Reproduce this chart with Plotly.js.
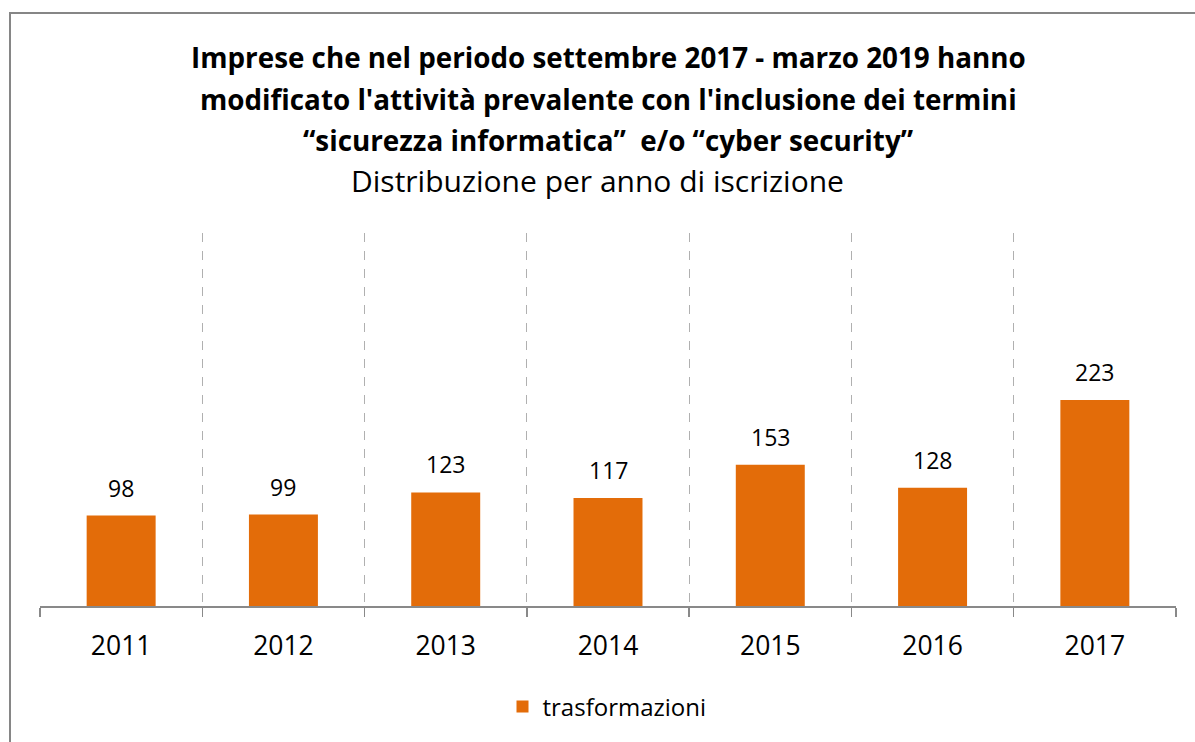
<!DOCTYPE html>
<html>
<head>
<meta charset="utf-8">
<script src="https://cdn.plot.ly/plotly-3.0.1.min.js"></script>
<style>
html,body{margin:0;padding:0;background:#fff;}
#chart{width:1195px;height:742px;}
</style>
</head>
<body>
<div id="chart"></div>
<script>
const years = ["2011","2012","2013","2014","2015","2016","2017"];
const trasformazioni = [98, 99, 123, 117, 153, 128, 223];
const seriesName = "trasformazioni";
const titleLines = [
  "Imprese che nel periodo settembre 2017 - marzo 2019 hanno",
  "modificato l'attività prevalente con l'inclusione dei termini",
  "“sicurezza informatica”  e/o “cyber security”"
];
const subtitle = "Distribuzione per anno di iscrizione";

const FONT = "Open Sans, sans-serif";
const L = 40, R = 19, T = 233, B = 136;
const W = 1195, H = 742;
const pw = W - L - R, ph = H - T - B;
const px2x = p => (p - L) / pw;
const py2y = p => (H - B - p) / ph;

const titleY = [57, 99, 140];
const annotations = titleLines.map((t, i) => ({
  text: "<b>" + t + "</b>", xref: "paper", yref: "paper",
  x: px2x(608), y: py2y(titleY[i]), xanchor: "center", yanchor: "middle",
  showarrow: false, font: {family: FONT, size: 27.8, color: "#000"}
}));
annotations.push({
  text: subtitle, xref: "paper", yref: "paper",
  x: px2x(597), y: py2y(181), xanchor: "center", yanchor: "middle",
  showarrow: false, font: {family: FONT, size: 30, color: "#000"}
});
years.forEach((yr, i) => {
  annotations.push({
    text: String(trasformazioni[i]), x: i, y: trasformazioni[i],
    xref: "x", yref: "y", xanchor: "center", yanchor: "bottom",
    yshift: 10, showarrow: false,
    font: {family: FONT, size: 23, color: "#000"}
  });
});

const data = [{
  type: "bar", x: years, y: trasformazioni, name: seriesName,
  marker: {color: "#E36C09"}, hoverinfo: "x+y"
}];

const layout = {
  width: W, height: H,
  margin: {l: L, r: R, t: T, b: B, pad: 0},
  paper_bgcolor: "#fff", plot_bgcolor: "#fff",
  bargap: 0.575,
  showlegend: true,
  legend: {
    orientation: "h", x: px2x(607), xanchor: "center",
    y: py2y(707), yanchor: "middle",
    font: {family: FONT, size: 24, color: "#000"},
    itemwidth: 30
  },
  xaxis: {
    type: "category", range: [-0.5, 6.5], autorange: false,
    tickson: "boundaries",
    showgrid: true, gridcolor: "#B0B0B0", griddash: "dash", gridwidth: 1,
    showline: true, linecolor: "#898989", linewidth: 1.5,
    ticks: "outside", ticklen: 9, tickcolor: "#898989", tickwidth: 1.5,
    tickfont: {family: FONT, size: 26.5, color: "#000"},
    tickangle: 0,
    ticklabelstandoff: 16,
    fixedrange: true
  },
  yaxis: {
    range: [0, 404], autorange: false, showgrid: false, zeroline: false,
    showticklabels: false, showline: false, ticks: "", fixedrange: true
  },
  annotations: annotations,
  shapes: [
    {type: "line", xref: "paper", yref: "paper",
     x0: px2x(10), x1: px2x(10), y0: py2y(13), y1: py2y(760),
     line: {color: "#868686", width: 2}},
    {type: "line", xref: "paper", yref: "paper",
     x0: px2x(9), x1: px2x(1210), y0: py2y(13), y1: py2y(13),
     line: {color: "#868686", width: 2}}
  ]
};

Plotly.newPlot("chart", data, layout, {displayModeBar: false, staticPlot: true});
</script>
</body>
</html>
